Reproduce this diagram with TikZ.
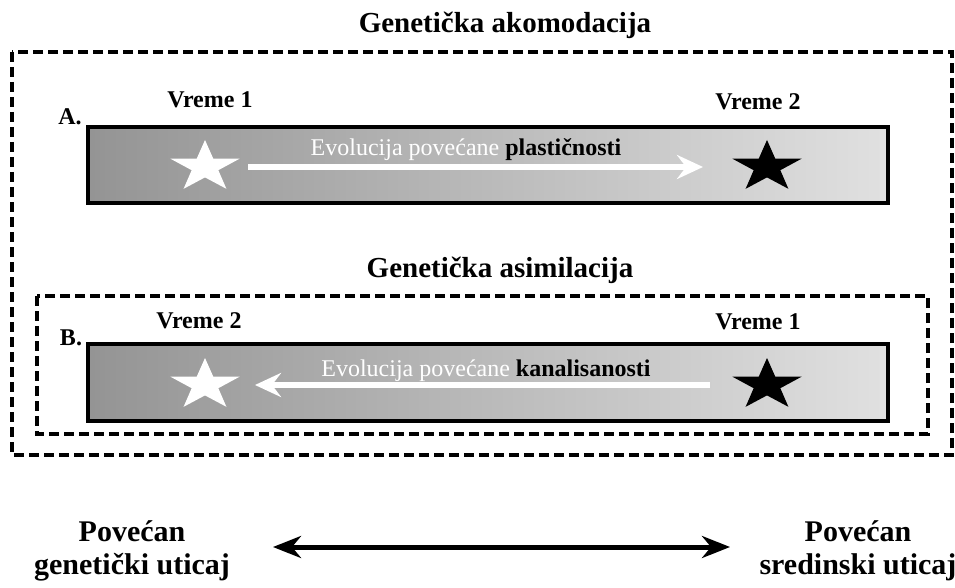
\documentclass[tikz,border=0pt]{standalone}
\usepackage{fontspec}
\setmainfont{Liberation Serif}
\usetikzlibrary{arrows.meta,shapes.geometric,positioning}

\tikzset{
  okvir/.style={draw, line width=3.5pt, dash pattern=on 10pt off 5pt},
  traka/.style={draw, line width=3.5pt, left color=black!42, right color=black!12},
  zvezda/.style={star, star points=5, star point ratio=2.6, minimum size=54pt,
                 inner sep=0pt, xscale=1.35, transform shape},
  naslov/.style={anchor=base, font=\bfseries\fontsize{29}{31}\selectfont},
  oznaka/.style={anchor=base, font=\bfseries\fontsize{24}{26}\selectfont},
  tekst/.style={anchor=base, font=\fontsize{24}{26}\selectfont},
  dole/.style={align=center, font=\bfseries\fontsize{30}{33}\selectfont},
  belastrela/.style={draw=white, line width=6.5pt, -{Stealth[length=26pt,width=24pt,inset=9pt]}},
  dvostruka/.style={line width=5pt, {Stealth[length=28pt,width=22pt,inset=9pt]}-{Stealth[length=28pt,width=22pt,inset=9pt]}},
}

\begin{document}
\begin{tikzpicture}[x=1pt,y=-1pt]
    \useasboundingbox (0,0) rectangle (955,588);
    % okviri
    \node[naslov] (akom) at (505,33) {Genetička akomodacija};
    \draw[okvir] (12,52) rectangle (952,455);
    \node[naslov] (asim) at (500,277) {Genetička asimilacija};
    \draw[okvir] (37,296) rectangle (928,434);

    % A
    \draw[traka] (88,127) rectangle (888,203);
    \node[oznaka] (a) at (70,125) {A.};
    \node[oznaka] (v1a) at (210,108) {Vreme 1};
    \node[oznaka] (v2a) at (758,110) {Vreme 2};
    \node[tekst] (ta) at (466,156) {\textcolor{white}{Evolucija povećane} \textbf{plastičnosti}};

    % B
    \draw[traka] (88,344) rectangle (888,421);
    \node[oznaka] (b) at (71,345) {B.};
    \node[oznaka] (v2b) at (199,328) {Vreme 2};
    \node[oznaka] (v1b) at (758,329) {Vreme 1};
    \node[tekst] (tb) at (486,376) {\textcolor{white}{Evolucija povećane} \textbf{kanalisanosti}};

    % zvezde
    \foreach \ime/\x/\y/\boja in {za1/205/167/white, za2/767/167/black, zb1/205/385/white, zb2/767/385/black}
        \node[zvezda, fill=\boja] (\ime) at (\x,\y) {};
    \draw[belastrela, shorten <=43pt, shorten >=64pt] (za1.center) -- (za2.center);
    \draw[belastrela, shorten <=57pt, shorten >=50pt] (zb2.center) -- (zb1.center);

    % dole
    \node[dole] (gen) at (132,551) {Povećan\\genetički uticaj};
    \node[dole] (sred) at (858,551) {Povećan\\sredinski uticaj};
    \coordinate (levo) at (273,547);
    \coordinate (desno) at (730,547);
    \draw[dvostruka] (levo) -- (desno);
\end{tikzpicture}
\end{document}
